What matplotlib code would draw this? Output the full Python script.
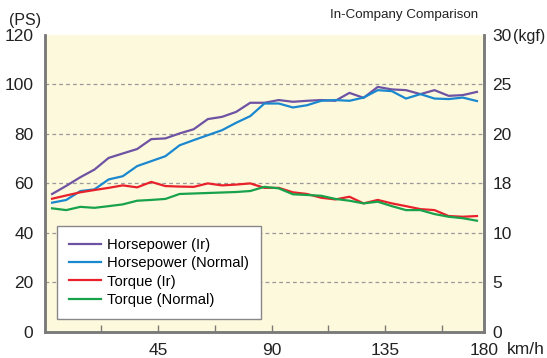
import matplotlib
matplotlib.use("Agg")
import matplotlib.pyplot as plt
from matplotlib.ticker import FixedLocator, FixedFormatter

plt.rcParams['font.family'] = ['Liberation Sans', 'DejaVu Sans']

# Vehicle speed (km/h)
speed = [3.0, 8.6, 14.2, 19.8, 25.4, 31.0, 36.7, 42.3, 47.9, 53.5, 59.1,
         64.7, 70.3, 75.9, 81.5, 87.1, 92.8, 98.4, 104.0, 109.6, 115.2,
         120.8, 126.4, 132.0, 137.6, 143.2, 148.9, 154.5, 160.1, 165.7, 171.3]

# Horsepower (PS)
hp_ir = [55.7, 59.0, 62.5, 65.6, 70.3, 72.1, 73.9, 77.9, 78.2, 80.2, 81.9,
         86.0, 86.9, 88.9, 92.6, 92.6, 93.7, 93.0, 93.4, 93.7, 93.4,
         96.6, 94.6, 99.0, 98.0, 97.7, 96.1, 97.7, 95.4, 95.7, 97.0]
hp_normal = [52.2, 53.3, 56.9, 57.6, 61.6, 62.9, 67.0, 69.0, 71.0, 75.4, 77.5,
             79.5, 81.5, 84.5, 87.2, 92.3, 92.3, 90.7, 91.6, 93.4, 93.7,
             93.4, 94.7, 97.7, 97.3, 94.3, 96.1, 94.3, 94.1, 94.7, 93.3]

# Torque (kgf)
tq_ir = [13.45, 13.78, 14.10, 14.33, 14.55, 14.80, 14.60, 15.15, 14.73, 14.68, 14.65,
         15.00, 14.80, 14.88, 15.00, 14.55, 14.55, 14.10, 13.93, 13.55, 13.38,
         13.65, 12.98, 13.33, 12.98, 12.70, 12.40, 12.30, 11.70, 11.63, 11.70]
tq_normal = [12.48, 12.30, 12.63, 12.53, 12.70, 12.88, 13.25, 13.33, 13.43, 13.93, 13.98,
             14.03, 14.08, 14.13, 14.23, 14.65, 14.50, 13.90, 13.83, 13.75, 13.43,
             13.25, 12.98, 13.15, 12.70, 12.30, 12.30, 11.90, 11.63, 11.48, 11.23]

series_labels = ["Horsepower (Ir)", "Horsepower (Normal)", "Torque (Ir)", "Torque (Normal)"]
colors = ["#6e52a3", "#1a88cf", "#e8212b", "#18a24c"]

hp_ticks = [0, 20, 40, 60, 80, 100, 120]
hp_ticklabels = ["0", "20", "40", "60", "80", "100", "120"]
tq_ticks = [0, 5, 10, 15, 20, 25, 30]
tq_ticklabels = ["0", "5", "10", "18", "20", "25", "30"]
x_major = [45, 90, 135]
x_major_labels = ["45", "90", "135"]
x_minor = [22.5, 67.5, 112.5, 157.5]
x_end = 174.1

W, H = 547, 358
fig = plt.figure(figsize=(W / 100, H / 100), dpi=100)
ax = fig.add_axes([44.5 / W, (H - 331.8) / H, (484 - 44.5) / W, (331.8 - 35) / H])
ax.set_facecolor("#fdf9dc")

spine_c = "#7a7a7a"
for s in ["left", "right", "bottom"]:
    ax.spines[s].set_color(spine_c)
    ax.spines[s].set_linewidth(1.8)
ax.spines["top"].set_visible(False)

ax.set_xlim(0, x_end)
ax.set_ylim(0, 120)

# dashed grid lines
for g in [20, 40, 60, 80, 100]:
    ax.axhline(g, color="#999999", lw=0.9, ls=(0, (3, 2.5)), zorder=1)

l1, = ax.plot(speed, hp_ir, color=colors[0], lw=1.6, zorder=3)
l2, = ax.plot(speed, hp_normal, color=colors[1], lw=1.6, zorder=3)

# torque on a secondary axis (kgf), drawn over the horsepower axis
ax2 = ax.twinx()
ax2.set_ylim(0, 30)
ax2.patch.set_visible(False)
l3, = ax2.plot(speed, tq_ir, color=colors[2], lw=1.6, zorder=3)
l4, = ax2.plot(speed, tq_normal, color=colors[3], lw=1.6, zorder=3)
for s in ["left", "right", "bottom"]:
    ax2.spines[s].set_color(spine_c)
    ax2.spines[s].set_linewidth(1.8)
ax2.spines["top"].set_visible(False)

ax.yaxis.set_major_locator(FixedLocator(hp_ticks))
ax.yaxis.set_major_formatter(FixedFormatter(hp_ticklabels))
ax.tick_params(axis="y", length=0, pad=8, labelsize=12.5, labelcolor="#222222")
ax2.yaxis.set_major_locator(FixedLocator(tq_ticks))
ax2.yaxis.set_major_formatter(FixedFormatter(tq_ticklabels))
ax2.tick_params(axis="y", length=0, pad=6, labelsize=12.5, labelcolor="#222222")

ax.set_xticks(x_major + [x_end])
ax.set_xticklabels(x_major_labels + ["180"])
ax.set_xticks(x_minor, minor=True)
ax.tick_params(axis="x", which="both", direction="in", length=5, width=1,
               color=spine_c, pad=8, labelsize=12.5, labelcolor="#222222")

fig.text(9 / W, 1 - 20.5 / H, "(PS)", ha="left", va="center", fontsize=11.5, color="#222222")
fig.text(513 / W, 1 - 37 / H, "(kgf)", ha="left", va="center", fontsize=11.5, color="#222222")
fig.text(507 / W, 1 - 350 / H, "km/h", ha="left", va="center", fontsize=12.5, color="#222222")
fig.text(478 / W, 1 - 15 / H, "In-Company Comparison", ha="right", va="center",
         fontsize=9.6, color="#222222")

leg = ax2.legend([l1, l2, l3, l4], series_labels, loc="upper left",
                 bbox_to_anchor=((57 - 44.5) / (484 - 44.5), (331.8 - 226) / (331.8 - 35)),
                 fontsize=10.6, frameon=True, fancybox=False, framealpha=1,
                 edgecolor="#888888", handlelength=2.2, handletextpad=0.4,
                 labelspacing=0.3, borderpad=0.8, borderaxespad=0)
leg.get_frame().set_linewidth(1.0)
leg.set_zorder(5)

fig.savefig("out.png", dpi=100)
